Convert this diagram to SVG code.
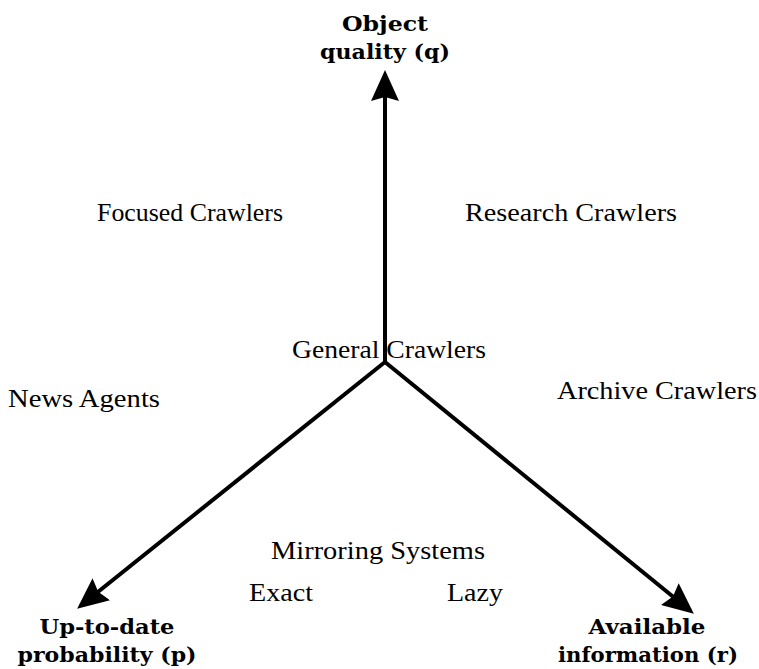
<svg xmlns="http://www.w3.org/2000/svg" width="759" height="669" viewBox="0 0 759 669">
<defs>
<marker id="head" markerUnits="userSpaceOnUse" markerWidth="32" markerHeight="28" refX="26" refY="14" orient="auto" viewBox="0 0 32 28">
<path d="M0,0 L31,14 L0,28 L4,14 z" fill="#000"/>
</marker>
<style>
.lbl{font-family:"Liberation Serif","Times New Roman",serif;font-size:25px;fill:#000}
.ax{font-family:"DejaVu Serif",serif;font-size:21px;font-weight:bold;fill:#000;text-anchor:middle}
.conn{stroke:#000;stroke-width:4;fill:none;marker-end:url(#head)}
</style>
</defs>
<rect width="759" height="669" fill="#fff"/>
<g id="connectors">
<line class="conn" x1="385" y1="362" x2="385" y2="75"/>
<line class="conn" x1="385" y1="362" x2="81" y2="605.5" stroke-width="5"/>
<line class="conn" x1="385" y1="362" x2="690" y2="610.5" stroke-width="5"/>
</g>
<g id="axis-q">
<text class="ax" x="385" y="31" textLength="86" lengthAdjust="spacingAndGlyphs">Object</text>
<text class="ax" x="385" y="59" textLength="130" lengthAdjust="spacingAndGlyphs">quality (q)</text>
</g>
<g id="axis-p">
<text class="ax" x="107" y="634" textLength="135" lengthAdjust="spacingAndGlyphs">Up-to-date</text>
<text class="ax" x="107" y="662" textLength="179" lengthAdjust="spacingAndGlyphs">probability (p)</text>
</g>
<g id="axis-r">
<text class="ax" x="647" y="634" textLength="117" lengthAdjust="spacingAndGlyphs">Available</text>
<text class="ax" x="648" y="662" textLength="180" lengthAdjust="spacingAndGlyphs">information (r)</text>
</g>
<g id="focused"><text class="lbl" x="97" y="221" textLength="186" lengthAdjust="spacingAndGlyphs">Focused Crawlers</text></g>
<g id="research"><text class="lbl" x="465" y="221" textLength="212" lengthAdjust="spacingAndGlyphs">Research Crawlers</text></g>
<g id="general"><text class="lbl" x="292" y="358" textLength="194" lengthAdjust="spacingAndGlyphs">General Crawlers</text></g>
<g id="news"><text class="lbl" x="8" y="407" textLength="152" lengthAdjust="spacingAndGlyphs">News Agents</text></g>
<g id="archive"><text class="lbl" x="557" y="399" textLength="200" lengthAdjust="spacingAndGlyphs">Archive Crawlers</text></g>
<g id="mirroring"><text class="lbl" x="271" y="559" textLength="214" lengthAdjust="spacingAndGlyphs">Mirroring Systems</text></g>
<g id="exact"><text class="lbl" x="249" y="601" textLength="64" lengthAdjust="spacingAndGlyphs">Exact</text></g>
<g id="lazy"><text class="lbl" x="447" y="601" textLength="56" lengthAdjust="spacingAndGlyphs">Lazy</text></g>
</svg>
